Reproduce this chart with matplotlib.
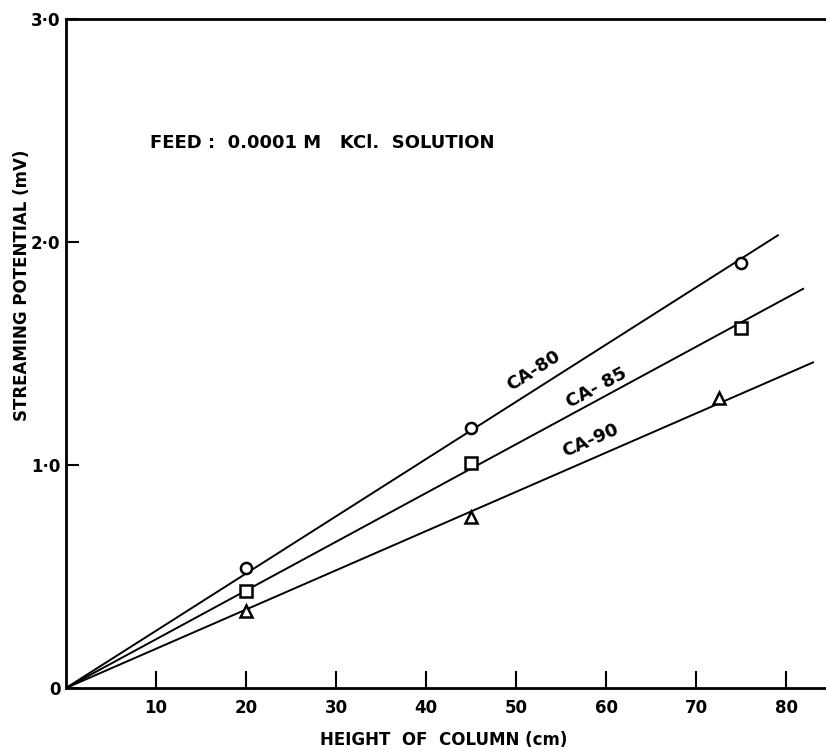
import matplotlib
matplotlib.use("Agg")
import matplotlib.pyplot as plt
import numpy as np

# measured points
x_ca80 = [20, 45, 75]
y_ca80 = [0.54, 1.165, 1.905]
x_ca85 = [20, 45, 75]
y_ca85 = [0.435, 1.01, 1.615]
x_ca90 = [20, 45, 72.5]
y_ca90 = [0.345, 0.765, 1.30]

# fitted lines through origin: (x_end, y_end)
line_ca80 = [0, 79.1], [0, 2.03]
line_ca85 = [0, 81.9], [0, 1.79]
line_ca90 = [0, 83.0], [0, 1.46]

xticks = [10, 20, 30, 40, 50, 60, 70, 80]
yticks = [0, 1.0, 2.0, 3.0]
ytick_labels = ["0", "1·0", "2·0", "3·0"]

plt.rcParams["font.family"] = "DejaVu Sans"
plt.rcParams["font.weight"] = "bold"

W, H = 826, 751
fig = plt.figure(figsize=(W / 100, H / 100), dpi=100)
ax = fig.add_axes([66 / W, (H - 688) / H, (W - 66) / W, (688 - 19) / H])

ax.plot(*line_ca80, color="black", lw=1.4)
ax.plot(*line_ca85, color="black", lw=1.4)
ax.plot(*line_ca90, color="black", lw=1.4)

mk = dict(color="black", mfc="white", mew=1.8, ms=8, ls="none")
ax.plot(x_ca80, y_ca80, marker="o", **mk)
ax.plot(x_ca85, y_ca85, marker="s", **mk)
ax.plot(x_ca90, y_ca90, marker="^", **mk)

ax.set_xlim(0, 760 / 9)
ax.set_ylim(0, 3.0)

ax.spines["right"].set_visible(False)
for s in ["left", "bottom", "top"]:
    ax.spines[s].set_linewidth(2)

ax.set_xticks(xticks)
ax.set_xticklabels([str(t) for t in xticks], fontsize=12, fontweight="bold")
ax.set_yticks(yticks)
ax.set_yticklabels(ytick_labels, fontsize=12, fontweight="bold")
ax.tick_params(axis="x", direction="in", length=12, width=1.5, pad=8)
ax.tick_params(axis="y", direction="in", length=9, width=1.5, pad=4)

fig.text(444 / W, 1 - 740 / H, "HEIGHT  OF  COLUMN (cm)", ha="center", va="center",
         fontsize=12, fontweight="bold")
fig.text(22 / W, 1 - 285 / H, "STREAMING POTENTIAL (mV)", ha="center", va="center",
         rotation=90, fontsize=12, fontweight="bold")

ax.text(150 / W, 1 - 143 / H, "FEED :  0.0001 M   KCl.  SOLUTION",
        transform=fig.transFigure, ha="left", va="center", fontsize=13, fontweight="bold")

ax.text(534 / W, 1 - 371 / H, "CA-80", transform=fig.transFigure, rotation=32.5,
        rotation_mode="anchor", ha="center", va="center", fontsize=13, fontweight="bold")
ax.text(597 / W, 1 - 388 / H, "CA- 85", transform=fig.transFigure, rotation=28.4,
        rotation_mode="anchor", ha="center", va="center", fontsize=13, fontweight="bold")
ax.text(590 / W, 1 - 440 / H, "CA-90", transform=fig.transFigure, rotation=23.6,
        rotation_mode="anchor", ha="center", va="center", fontsize=13, fontweight="bold")

fig.savefig("out.png", dpi=100)
